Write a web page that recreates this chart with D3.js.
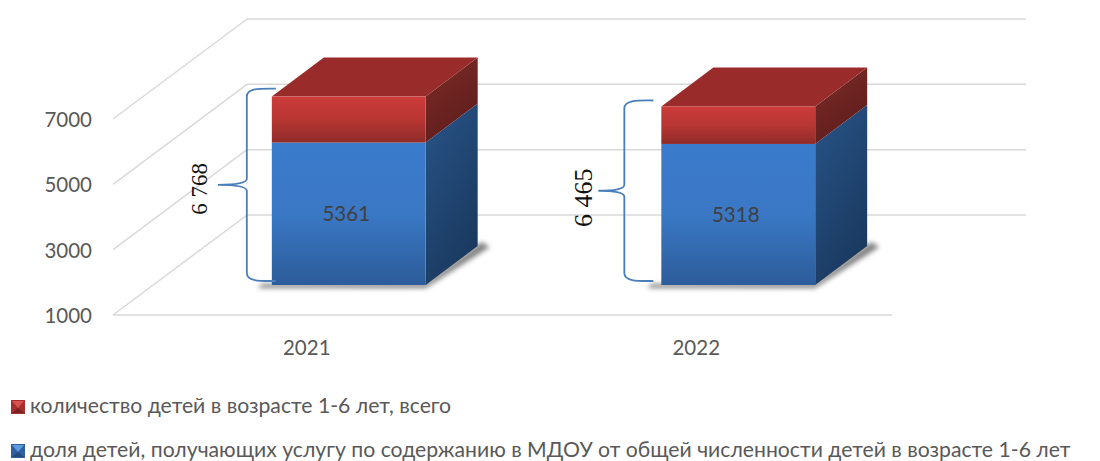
<!DOCTYPE html>
<html><head><meta charset="utf-8">
<script src="https://cdnjs.cloudflare.com/ajax/libs/d3/7.8.5/d3.min.js"></script>
<style>html,body{margin:0;padding:0;background:#fff}svg{display:block}</style>
</head><body><svg id="c" width="1100" height="461"></svg>
<script>
const categories = ["2021", "2022"];
const blueValues = [5361, 5318];
const totalValues = [6768, 6465];
const totalLabels = ["6 768", "6 465"];
const tickValues = [1000, 3000, 5000, 7000];
const legendLabels = ["количество детей в возрасте 1-6 лет, всего",
  "доля детей, получающих услугу по содержанию в МДОУ от общей численности детей в возрасте 1-6 лет"];

const FONT = "Lato,'Open Sans',sans-serif", TEXT = "#595959";
const svg = d3.select("#c");
const defs = svg.append("defs");
function grad(id, stops, x2 = 0, y2 = 1) {
  const g = defs.append("linearGradient").attr("id", id).attr("x1", 0).attr("y1", 0).attr("x2", x2).attr("y2", y2);
  stops.forEach((c, i) => g.append("stop").attr("offset", i / (stops.length - 1)).attr("stop-color", c));
}
grad("blueFront", ["#3b7bcc", "#3a78c5", "#2d5c9a"]);
grad("redFront", ["#cc3c3a", "#b83633", "#8f2b29"]);
grad("blueSide", ["#285488", "#1a3a60"], 0.5, 1);
grad("redSide", ["#7d2c28", "#5f1d1b"], 0.5, 1);
defs.append("filter").attr("id", "soft").attr("x", "-20%").attr("y", "-20%").attr("width", "140%").attr("height", "140%")
  .append("feGaussianBlur").attr("stdDeviation", 2.5);

const floorY = 315, floorLeft = 113, floorRight = 892;
const wallDx = 134, wallDy = -100;
const barDepthOffset = [41, -30];
const barDepth = [52, -39];

const y = d3.scaleLinear().domain([1000, 7000]).range([floorY, 119]);
const x = d3.scaleBand().domain(categories).range([floorLeft, floorRight]);
const barW = x.bandwidth() * 0.395;

const grid = svg.append("g").attr("stroke", "#d9d9d9").attr("stroke-width", 1.5).attr("fill", "none");
grid.selectAll(".diag").data(tickValues).join("line").attr("x1", floorLeft).attr("y1", d => y(d))
  .attr("x2", floorLeft + wallDx).attr("y2", d => y(d) + wallDy);
grid.selectAll(".back").data(tickValues).join("line").attr("x1", floorLeft + wallDx).attr("y1", d => y(d) + wallDy)
  .attr("x2", floorRight + wallDx).attr("y2", d => y(d) + wallDy);
grid.append("line").attr("x1", floorLeft).attr("x2", floorRight).attr("y1", y(1000)).attr("y2", y(1000));

const yAxis = d3.axisLeft(y).tickValues(tickValues).tickSize(0).tickPadding(21).tickFormat(d3.format("d"));
const gy = svg.append("g").attr("transform", `translate(${floorLeft},0)`).call(yAxis);
gy.select(".domain").remove();
gy.selectAll("text").attr("font-family", FONT).attr("font-size", 20.5).attr("fill", TEXT).attr("dy", "0.36em");
const xAxis = d3.axisBottom(x).tickSize(0).tickPadding(25);
const gx = svg.append("g").attr("transform", `translate(-1,${floorY})`).call(xAxis);
gx.select(".domain").remove();
gx.selectAll("text").attr("font-family", FONT).attr("font-size", 20.5).attr("fill", TEXT).attr("dy", "0.72em");

const [ox, oy] = barDepthOffset, [dx, dy] = barDepth;
const barY = v => y(v) + oy;
const pts = a => a.map(p => p.join(",")).join(" ");
const bars = svg.selectAll(".bar").data(categories.map((c, i) => ({
  c, i, blue: blueValues[i], total: totalValues[i], label: totalLabels[i],
  l: x(c) + x.bandwidth() / 2 + ox - barW / 2
}))).join("g").attr("class", "bar");

bars.append("polygon").attr("filter", "url(#soft)").attr("fill", "#555").attr("opacity", .75)
  .attr("points", d => { const b = barY(1000), r = d.l + barW;
    return pts([[d.l - 14, b + 3], [r, b + 3], [r + dx + 12, b + dy + 1], [r + dx + 4, b + dy - 4], [r, b - 2], [d.l - 10, b - 1]]); });
bars.each(function (d) {
  const g = d3.select(this), r = d.l + barW, b = barY(1000), m = barY(d.blue), t = barY(d.total);
  g.append("polygon").attr("fill", "url(#blueSide)").attr("points", pts([[r, m], [r + dx, m + dy], [r + dx, b + dy], [r, b]]));
  g.append("polygon").attr("fill", "url(#redSide)").attr("points", pts([[r, t], [r + dx, t + dy], [r + dx, m + dy], [r, m]]));
  g.append("polygon").attr("fill", "#992c2a").attr("points", pts([[d.l, t], [d.l + dx, t + dy], [r + dx, t + dy], [r, t]]));
  g.append("rect").attr("x", d.l).attr("y", m).attr("width", barW).attr("height", b - m).attr("fill", "url(#blueFront)");
  g.append("rect").attr("x", d.l).attr("y", t).attr("width", barW).attr("height", m - t).attr("fill", "url(#redFront)");
  g.append("text").attr("x", (d.l + r) / 2 - 2.5).attr("y", (m + b) / 2).attr("dy", "0.36em").attr("text-anchor", "middle")
    .attr("font-family", FONT).attr("font-size", 20.5).attr("fill", "#404040").text(d.blue);
});

const braceGap = [25, 37], tipLen = [29, 26], braceTop = [8, 6], labelGap = [18, 15], labelSize = [23, 26], labelShift = [4, 7];
bars.each(function (d) {
  const g = d3.select(this), i = d.i;
  const sx = d.l - braceGap[i], top = barY(d.total) - braceTop[i], bot = barY(1000) - 4;
  const mid = (top + bot) / 2, end = sx + 29, tip = sx - tipLen[i];
  const path = d3.path();
  path.moveTo(end, top);
  path.bezierCurveTo(end - 14, top, sx, top - 1, sx, top + 8);
  path.lineTo(sx, mid - 6);
  path.bezierCurveTo(sx, mid - 1, sx - 14, mid, tip, mid);
  path.bezierCurveTo(sx - 14, mid, sx, mid + 1, sx, mid + 6);
  path.lineTo(sx, bot - 8);
  path.bezierCurveTo(sx, bot + 1, end - 14, bot, end, bot);
  g.append("path").attr("d", path.toString()).attr("fill", "none").attr("stroke", "#4a7ebb").attr("stroke-width", 1.8);
  g.append("text").attr("transform", `translate(${tip - labelGap[i]},${mid + labelShift[i]}) rotate(-90)`)
    .attr("text-anchor", "middle").attr("dy", "0.33em").attr("font-family", "'Liberation Serif',serif")
    .attr("font-size", labelSize[i]).attr("fill", "#111").text(d.label);
});

const legendColors = [["#a52f2d", "#d8534f", "#7a2220"], ["#2f5f9e", "#5b9be0", "#234a7c"]];
const legendY = d3.scalePoint().domain(legendLabels).range([407, 451]);
const lg = svg.selectAll(".lg").data(legendLabels).join("g").attr("class", "lg")
  .attr("transform", d => `translate(11,${legendY(d)})`);
lg.append("rect").attr("x", 0).attr("y", -7).attr("width", 14).attr("height", 14).attr("fill", (d, i) => legendColors[i][0]);
lg.append("polygon").attr("points", "1,-6 13,-6 7,1").attr("fill", (d, i) => legendColors[i][1]);
lg.append("polygon").attr("points", "1,6 13,6 7,1").attr("fill", (d, i) => legendColors[i][2]);
lg.append("text").attr("x", 19).attr("dy", "0.26em").attr("font-family", FONT).attr("font-size", 21.2).attr("fill", TEXT).text(d => d);
</script></body></html>
